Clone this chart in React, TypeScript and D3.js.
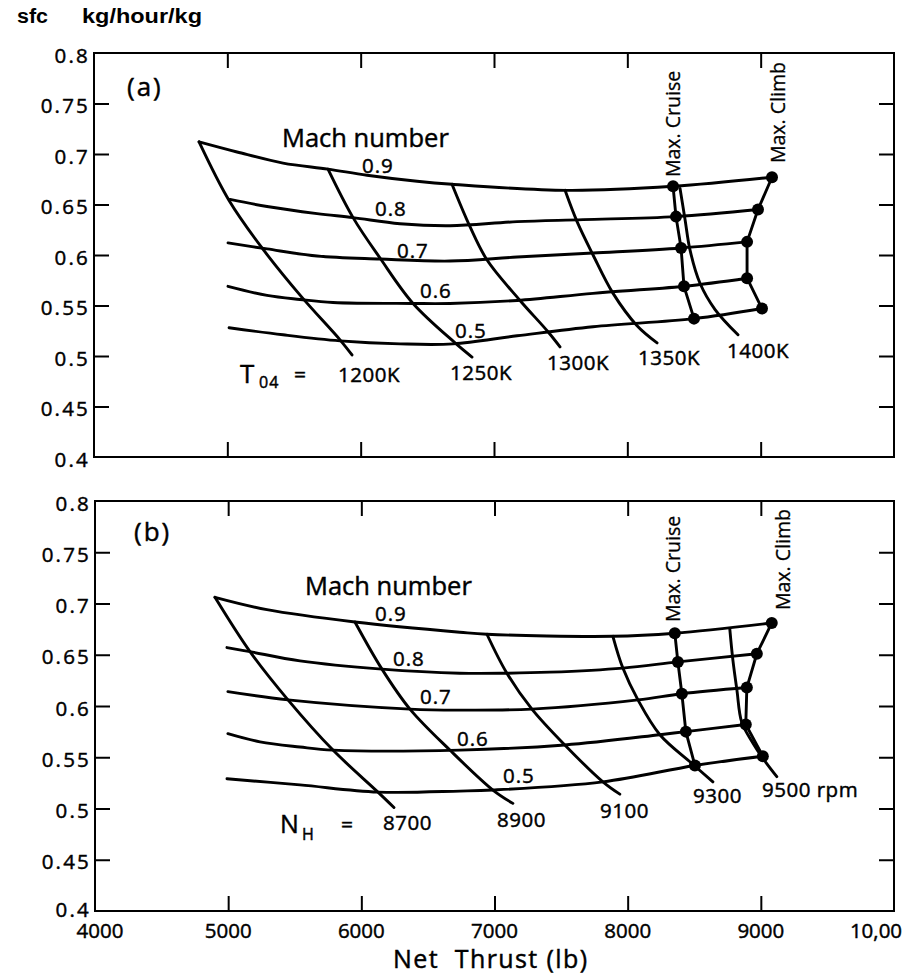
import * as d3 from 'd3'
import { useEffect, useRef } from 'react'

type Pt = [number, number]

const W = 913
const H = 974

// axes
const xTicks = [5000, 6000, 7000, 8000, 9000]
const xLabelTicks = [4000, 5000, 6000, 7000, 8000, 9000]
const yTicks = [0.45, 0.5, 0.55, 0.6, 0.65, 0.7, 0.75]
const yLabelTicks = [0.4, 0.45, 0.5, 0.55, 0.6, 0.65, 0.7, 0.75, 0.8]
const yTickLabels = ['0.4', '0.45', '0.5', '0.55', '0.6', '0.65', '0.7', '0.75', '0.8']

const machLabels = ['0.9', '0.8', '0.7', '0.6', '0.5']
const tempLabels = ['1200K', '1250K', '1300K', '1350K', '1400K']
const rpmLabels = ['8700', '8900', '9100', '9300', '9500 rpm']

// panel (a): constant Mach number lines, thrust (lb) vs sfc
const machA: Pt[][] = [
  [[4788, 0.712], [5073, 0.702], [5418, 0.691], [5755, 0.685], [6048, 0.679], [6423, 0.673], [6685, 0.670], [7548, 0.664], [8343, 0.668], [9085, 0.677]],
  [[5020, 0.655], [5298, 0.648], [5673, 0.641], [5943, 0.637], [6295, 0.631], [6670, 0.629], [7173, 0.633], [7668, 0.635], [8365, 0.638], [8980, 0.645]],
  [[5005, 0.612], [5298, 0.606], [5673, 0.599], [6145, 0.596], [6670, 0.594], [7173, 0.598], [7743, 0.602], [8403, 0.607], [8898, 0.613]],
  [[5005, 0.569], [5298, 0.560], [5545, 0.556], [5793, 0.553], [6393, 0.552], [6670, 0.552], [7173, 0.555], [7743, 0.562], [8425, 0.569], [8898, 0.577]],
  [[5013, 0.528], [5418, 0.521], [5845, 0.515], [6295, 0.512], [6693, 0.512], [7173, 0.520], [7743, 0.529], [8500, 0.537], [9010, 0.547]],
]
// panel (a): constant turbine entry temperature lines
const tempA: Pt[][] = [
  [[4788, 0.712], [5013, 0.654], [5260, 0.607], [5560, 0.558], [5845, 0.516], [5935, 0.501]],
  [[5755, 0.685], [5943, 0.637], [6145, 0.597], [6393, 0.552], [6708, 0.513], [6835, 0.499]],
  [[6685, 0.670], [6820, 0.628], [6948, 0.595], [7195, 0.555], [7405, 0.524], [7495, 0.509]],
  [[7533, 0.664], [7623, 0.633], [7743, 0.600], [7893, 0.562], [8073, 0.530], [8223, 0.513]],
  [[8395, 0.666], [8433, 0.635], [8470, 0.605], [8545, 0.572], [8658, 0.546], [8830, 0.521]],
]
const cruiseA: Pt[] = [[8343, 0.668], [8365, 0.638], [8403, 0.607], [8425, 0.569], [8500, 0.537]]
const climbA: Pt[] = [[9085, 0.677], [8980, 0.645], [8898, 0.613], [8898, 0.577], [9010, 0.547]]

// panel (b)
const machB: Pt[][] = [
  [[4901, 0.706], [5291, 0.694], [5952, 0.682], [6740, 0.672], [6943, 0.670], [7889, 0.668], [8354, 0.671], [9082, 0.681]],
  [[4991, 0.657], [5164, 0.653], [5539, 0.644], [6155, 0.636], [6740, 0.632], [7093, 0.632], [7416, 0.633], [7964, 0.637], [8377, 0.643], [8970, 0.651]],
  [[4998, 0.614], [5449, 0.606], [6365, 0.597], [6740, 0.596], [7281, 0.597], [8077, 0.606], [8407, 0.612], [8895, 0.618]],
  [[4998, 0.573], [5239, 0.565], [5539, 0.560], [5787, 0.557], [6740, 0.557], [7528, 0.562], [8242, 0.572], [8437, 0.575], [8887, 0.582]],
  [[4991, 0.529], [5539, 0.523], [6125, 0.516], [6740, 0.517], [6988, 0.518], [7814, 0.526], [8505, 0.542], [9015, 0.551]],
]
// panel (b): constant HP spool speed lines
const rpmB: Pt[][] = [
  [[4901, 0.706], [5164, 0.653], [5449, 0.606], [5787, 0.557], [6125, 0.516], [6245, 0.501]],
  [[5952, 0.682], [6155, 0.636], [6365, 0.597], [6665, 0.557], [6988, 0.518], [7138, 0.505]],
  [[6943, 0.670], [7093, 0.632], [7281, 0.597], [7528, 0.562], [7814, 0.526], [7941, 0.514]],
  [[7889, 0.668], [7964, 0.637], [8077, 0.606], [8242, 0.572], [8482, 0.544], [8640, 0.526]],
  [[8767, 0.675], [8790, 0.645], [8820, 0.616], [8857, 0.584], [8940, 0.564], [9015, 0.549], [9120, 0.531]],
]
const cruiseB: Pt[] = [[8354, 0.671], [8377, 0.643], [8407, 0.612], [8437, 0.575], [8505, 0.542]]
const climbB: Pt[] = [[9082, 0.681], [8970, 0.651], [8895, 0.618], [8887, 0.582], [9015, 0.551]]

const FONT = "'Open Sans', 'DejaVu Sans', sans-serif"
const TXT_STROKE = 0.45

type Box = { l: number; r: number; t: number; b: number }
type Txt = { s: string; x: number; y: number; size?: number }

type Panel = {
  box: Box
  mach: Pt[][]
  other: Pt[][]
  cruise: Pt[]
  climb: Pt[]
  tag: Txt
  machTitle: Txt
  machText: Txt[]
  otherText: Txt[]
  sym: { main: Txt; sub: Txt; eq: Txt }
  cruiseAt: [number, number]
  climbAt: [number, number]
  xLabels: boolean
}

// annotation placement in pixels
const panelA: Panel = {
  box: { l: 94, r: 894, t: 53, b: 457 },
  mach: machA, other: tempA, cruise: cruiseA, climb: climbA,
  tag: { s: '(a)', x: 127, y: 96, size: 26 },
  machTitle: { s: 'Mach number', x: 282, y: 147, size: 25.5 },
  machText: [[362, 173], [375, 216], [397, 258], [420, 298], [455, 338]].map((p, i) => ({ s: machLabels[i], x: p[0], y: p[1] })),
  otherText: [[338, 382], [450, 380], [547, 370], [638, 365], [727, 358]].map((p, i) => ({ s: tempLabels[i], x: p[0], y: p[1] })),
  sym: { main: { s: 'T', x: 240, y: 383, size: 26 }, sub: { s: '04', x: 259, y: 388, size: 16 }, eq: { s: '=', x: 294, y: 382, size: 21 } },
  cruiseAt: [680, 177],
  climbAt: [785, 163],
  xLabels: false,
}

const panelB: Panel = {
  box: { l: 95, r: 894, t: 501, b: 911 },
  mach: machB, other: rpmB, cruise: cruiseB, climb: climbB,
  tag: { s: '(b)', x: 134, y: 541, size: 26 },
  machTitle: { s: 'Mach number', x: 305, y: 595, size: 25.5 },
  machText: [[375, 621], [393, 666], [420, 704], [457, 746], [503, 783]].map((p, i) => ({ s: machLabels[i], x: p[0], y: p[1] })),
  otherText: [[383, 830], [497, 827], [600, 818], [693, 803], [762, 797]].map((p, i) => ({ s: rpmLabels[i], x: p[0], y: p[1] })),
  sym: { main: { s: 'N', x: 280, y: 833, size: 25 }, sub: { s: 'H', x: 302, y: 840, size: 16 }, eq: { s: '=', x: 341, y: 832, size: 21 } },
  cruiseAt: [680, 622],
  climbAt: [790, 610],
  xLabels: true,
}

function addText(g: any, t: Txt, size = 20.5) {
  return g.append('text').attr('x', t.x).attr('y', t.y)
    .attr('font-family', FONT).attr('font-size', t.size || size)
    .attr('fill', '#000').attr('stroke', '#000').attr('stroke-width', TXT_STROKE)
    .text(t.s)
}

function drawPanel(svg: any, p: Panel) {
  const { box } = p
  const x = d3.scaleLinear().domain([4000, 10000]).range([box.l, box.r])
  const y = d3.scaleLinear().domain([0.4, 0.8]).range([box.b, box.t])
  const g = svg.append('g')

  // inward ticks on all four sides
  const tk = 15
  const noLabel = () => ''
  g.append('g').attr('transform', `translate(0,${box.t})`)
    .call(d3.axisTop(x).tickValues(xTicks).tickSize(-tk).tickFormat(noLabel))
  g.append('g').attr('transform', `translate(0,${box.b})`)
    .call(d3.axisBottom(x).tickValues(xTicks).tickSize(-tk).tickFormat(noLabel))
  g.append('g').attr('transform', `translate(${box.l},0)`)
    .call(d3.axisLeft(y).tickValues(yTicks).tickSize(-tk).tickFormat(noLabel))
  g.append('g').attr('transform', `translate(${box.r},0)`)
    .call(d3.axisRight(y).tickValues(yTicks).tickSize(-tk).tickFormat(noLabel))
  g.selectAll('.domain').remove()
  g.selectAll('.tick line').attr('stroke', '#000').attr('stroke-width', 2)

  g.append('rect').attr('x', box.l).attr('y', box.t)
    .attr('width', box.r - box.l).attr('height', box.b - box.t)
    .attr('fill', 'none').attr('stroke', '#000').attr('stroke-width', 2)

  // y tick labels
  g.selectAll('text.yl').data(yLabelTicks).join('text')
    .attr('class', 'yl')
    .attr('x', box.l - 4)
    .attr('y', (d: number) => y(d) + (p.xLabels && d === 0.4 ? 6 : 9.5))
    .attr('text-anchor', 'end')
    .attr('font-family', FONT).attr('font-size', 20.5)
    .attr('stroke', '#000').attr('stroke-width', TXT_STROKE)
    .attr('letter-spacing', 2.2)
    .text((d: number, i: number) => yTickLabels[i])

  if (p.xLabels) {
    g.selectAll('text.xl').data(xLabelTicks).join('text')
      .attr('class', 'xl')
      .attr('x', (d: number) => x(d) + (d === 4000 ? 5 : 0)).attr('y', box.b + 27)
      .attr('text-anchor', 'middle')
      .attr('font-family', FONT).attr('font-size', 20.5)
      .attr('stroke', '#000').attr('stroke-width', TXT_STROKE)
      .text((d: number) => String(d))
    g.append('text').attr('x', x(10000) - 18).attr('y', box.b + 27)
      .attr('text-anchor', 'middle')
      .attr('font-family', FONT).attr('font-size', 20.5)
      .attr('stroke', '#000').attr('stroke-width', TXT_STROKE)
      .text('10,00')
  }

  const smooth = d3.line<Pt>().x(d => x(d[0])).y(d => y(d[1])).curve(d3.curveCatmullRom.alpha(0.5))
  const straight = d3.line<Pt>().x(d => x(d[0])).y(d => y(d[1]))

  const curves = g.append('g').attr('fill', 'none').attr('stroke', '#000')
    .attr('stroke-width', 2.9).attr('stroke-linejoin', 'round').attr('stroke-linecap', 'round')
  curves.selectAll('path.m').data(p.mach).join('path').attr('class', 'm').attr('d', (d: Pt[]) => smooth(d))
  curves.selectAll('path.o').data(p.other).join('path').attr('class', 'o').attr('d', (d: Pt[]) => smooth(d))
  curves.append('path').attr('d', straight(p.cruise))
  curves.append('path').attr('d', straight(p.climb))

  g.selectAll('circle.dot').data([...p.cruise, ...p.climb]).join('circle')
    .attr('class', 'dot')
    .attr('cx', (d: Pt) => x(d[0])).attr('cy', (d: Pt) => y(d[1]))
    .attr('r', 6).attr('fill', '#000')

  // annotations
  addText(g, p.tag).attr('letter-spacing', 2)
  addText(g, p.machTitle)
  p.machText.forEach(t => addText(g, t).attr('letter-spacing', 1))
  p.otherText.forEach(t => addText(g, t).attr('letter-spacing', 0.5))
  addText(g, p.sym.main)
  addText(g, p.sym.sub).attr('letter-spacing', 1)
  addText(g, p.sym.eq)

  g.append('text').attr('transform', `translate(${p.cruiseAt[0]},${p.cruiseAt[1]}) rotate(-90)`)
    .attr('font-family', FONT).attr('font-size', 19.5)
    .attr('stroke', '#000').attr('stroke-width', 0.3).text('Max. Cruise')
  g.append('text').attr('transform', `translate(${p.climbAt[0]},${p.climbAt[1]}) rotate(-90)`)
    .attr('font-family', FONT).attr('font-size', 19.5)
    .attr('stroke', '#000').attr('stroke-width', 0.3).text('Max. Climb')
}

function makeChart(el: SVGSVGElement) {
  const svg = d3.select(el)
  svg.selectAll('*').remove()
  svg.append('rect').attr('width', W).attr('height', H).attr('fill', '#fff')

  svg.append('text').attr('x', 17).attr('y', 23)
    .attr('font-family', "'Liberation Sans', Arial, sans-serif").attr('font-weight', 'bold')
    .attr('font-size', 20).attr('textLength', 31).attr('lengthAdjust', 'spacingAndGlyphs')
    .text('sfc')
  svg.append('text').attr('x', 82).attr('y', 23)
    .attr('font-family', "'Liberation Sans', Arial, sans-serif").attr('font-weight', 'bold')
    .attr('font-size', 20).attr('textLength', 120).attr('lengthAdjust', 'spacingAndGlyphs')
    .text('kg/hour/kg')

  drawPanel(svg, panelA)
  drawPanel(svg, panelB)

  svg.append('text').attr('x', 393).attr('y', 968)
    .attr('font-family', FONT).attr('font-size', 25)
    .attr('stroke', '#000').attr('stroke-width', TXT_STROKE)
    .attr('textLength', 194).attr('lengthAdjust', 'spacing')
    .attr('xml:space', 'preserve')
    .text('Net  Thrust (lb)')
}

export default function App() {
  const ref = useRef<SVGSVGElement>(null)
  useEffect(() => {
    if (ref.current) makeChart(ref.current)
  }, [])
  return (
    <svg ref={ref} width={W} height={H}
      style={{ position: 'absolute', left: 0, top: 0, display: 'block', background: '#fff' }} />
  )
}
